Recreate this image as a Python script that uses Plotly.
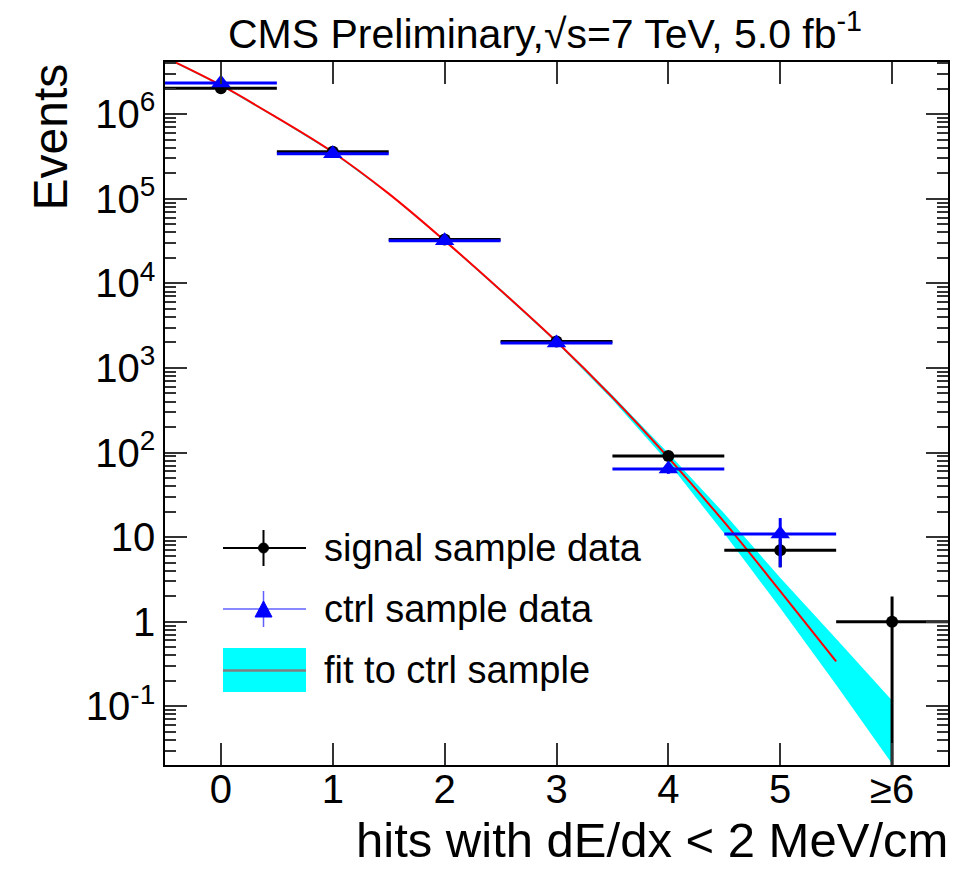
import plotly.graph_objects as go

# ---------------- data ----------------
bin_centers = [0, 1, 2, 3, 4, 5, 6]
tick_labels = ["0", "1", "2", "3", "4", "5", "≥6"]

signal_x = [0, 1, 2, 3, 4, 5, 6]
signal_y = [2.03e6, 3.6e5, 3.3e4, 2.05e3, 91, 7.0, 1.0]
signal_err_up = [1.4e3, 600, 180, 45, 9.5, 2.6, 0.98]
signal_err_dn = [1.4e3, 600, 180, 45, 9.5, 2.6, 0.9999]
signal_xerr = [0.5, 0.5, 0.5, 0.5, 0.5, 0.5, 0.5]

ctrl_x = [0, 1, 2, 3, 4, 5]
ctrl_y = [2.33e6, 3.4e5, 3.2e4, 1.97e3, 64, 10.9]
ctrl_err_up = [1.5e3, 580, 180, 44, 8, 5.9]
ctrl_err_dn = [1.5e3, 580, 180, 44, 8, 6.5]
ctrl_xerr = [0.5, 0.5, 0.5, 0.5, 0.5, 0.5]

fit_x = [-0.5, 0, 0.5, 1, 1.5, 2, 2.5, 3, 3.5, 4, 4.5, 5, 5.5]
fit_y = [4.7e6, 2.2e6, 9.1e5, 3.55e5, 1.15e5, 3.2e4, 8.3e3, 2.05e3, 4.5e2, 87, 15, 2.3, 0.34]

band_x = [-0.5, 0, 0.5, 1, 1.5, 2, 2.5, 3, 3.5, 4, 4.5, 5, 5.5, 6]
band_hi = [4.8e6, 2.25e6, 9.3e5, 3.62e5, 1.17e5, 3.27e4, 8.6e3, 2.12e3, 4.75e2, 98, 19, 3.3, 0.63, 0.117]
band_lo = [4.6e6, 2.15e6, 8.9e5, 3.48e5, 1.13e5, 3.13e4, 8.0e3, 1.98e3, 4.2e2, 76, 11.0, 1.45, 0.18, 0.021]

y_tickvals = [0.1, 1, 10, 100, 1e3, 1e4, 1e5, 1e6]
y_ticktext = ["10<sup>-1</sup>", "1", "10", "10<sup>2</sup>", "10<sup>3</sup>",
              "10<sup>4</sup>", "10<sup>5</sup>", "10<sup>6</sup>"]

FONT = "Liberation Sans, Arial, Helvetica, sans-serif"

fig = go.Figure()

# fit band
fig.add_trace(go.Scatter(x=band_x, y=band_lo, mode="lines", line=dict(width=0, color="#00ffff"),
                         showlegend=False, hoverinfo="skip"))
fig.add_trace(go.Scatter(x=band_x, y=band_hi, mode="lines", line=dict(width=0, color="#00ffff"),
                         fill="tonexty", fillcolor="#00ffff", showlegend=False, hoverinfo="skip"))
# fit curve
fig.add_trace(go.Scatter(x=fit_x, y=fit_y, mode="lines", line=dict(color="#ff0000", width=2, shape="spline"),
                         showlegend=False))

# signal data
fig.add_trace(go.Scatter(
    x=signal_x, y=signal_y, mode="markers",
    marker=dict(symbol="circle", size=12, color="black"),
    error_x=dict(type="data", array=signal_xerr, color="black", thickness=3, width=0),
    error_y=dict(type="data", symmetric=False, array=signal_err_up, arrayminus=signal_err_dn,
                 color="black", thickness=3, width=0),
    showlegend=False))

# ctrl data
fig.add_trace(go.Scatter(
    x=ctrl_x, y=ctrl_y, mode="markers",
    marker=dict(symbol="triangle-up", size=17, color="#0000ff"),
    error_x=dict(type="data", array=ctrl_xerr, color="#0000ff", thickness=3, width=0),
    error_y=dict(type="data", symmetric=False, array=ctrl_err_up, arrayminus=ctrl_err_dn,
                 color="#0000ff", thickness=3, width=0),
    showlegend=False))

# ---------------- layout ----------------
L, R, T, B = 165, 15, 62, 104
W, H = 963, 869
pw, ph = W - L - R, H - T - B


def px(x):
    return (x - L) / pw


def py(y):
    return (H - B - y) / ph


minor_vals = [k * 10.0 ** d for d in range(-2, 7) for k in range(2, 10)]

fig.update_layout(
    width=W, height=H,
    margin=dict(l=L, r=R, t=T, b=B, pad=0),
    paper_bgcolor="white", plot_bgcolor="white",
    font=dict(family=FONT, color="black"),
    showlegend=False,
    xaxis=dict(range=[-0.5, 6.5], tickmode="array", tickvals=bin_centers, ticktext=tick_labels,
               ticks="inside", ticklen=22, tickwidth=1.5, tickcolor="#333",
               showline=True, linecolor="black", linewidth=1.5, mirror="allticks",
               showgrid=False, zeroline=False, tickfont=dict(size=40, family=FONT),
               ticklabelstandoff=-12),
    yaxis=dict(type="log", range=[-1.694, 6.617], tickmode="array", tickvals=y_tickvals, ticktext=y_ticktext,
               ticks="inside", ticklen=22, tickwidth=1.5, tickcolor="#333",
               minor=dict(tickmode="array", tickvals=minor_vals, ticks="inside", ticklen=11,
                          tickwidth=1.5, tickcolor="#333", showgrid=False),
               showline=True, linecolor="black", linewidth=1.5, mirror="allticks",
               showgrid=False, zeroline=False, tickfont=dict(size=40, family=FONT),
               ticklabelstandoff=0),
)

ann = []
ann.append(dict(text="CMS Preliminary,√s=7 TeV, 5.0 fb<sup>-1</sup>", xref="paper", yref="paper",
                x=px(545), y=1, xanchor="center", yanchor="bottom", yshift=3, showarrow=False,
                font=dict(size=41, family=FONT)))
ann.append(dict(text="hits with dE/dx &lt; 2 MeV/cm", xref="paper", yref="paper",
                x=1.002, y=py(869), xanchor="right", yanchor="bottom", showarrow=False,
                font=dict(size=49, family=FONT)))
ann.append(dict(text="Events", xref="paper", yref="paper", textangle=-90,
                x=px(50), y=1, xanchor="center", yanchor="top", showarrow=False,
                font=dict(size=48, family=FONT)))

legend_labels = ["signal sample data", "ctrl sample data", "fit to ctrl sample"]
legend_rows = [548, 609, 670]
for lab, row in zip(legend_labels, legend_rows):
    ann.append(dict(text=lab, xref="paper", yref="paper", x=px(322), y=py(row),
                    xanchor="left", yanchor="middle", showarrow=False,
                    font=dict(size=38, family=FONT)))
fig.update_layout(annotations=ann)

shapes = []
# signal legend glyph
shapes.append(dict(type="line", xref="paper", yref="paper", x0=px(223), x1=px(306), y0=py(548), y1=py(548),
                   line=dict(color="black", width=2)))
shapes.append(dict(type="line", xref="paper", yref="paper", x0=px(263.5), x1=px(263.5), y0=py(530), y1=py(566),
                   line=dict(color="black", width=2)))
shapes.append(dict(type="circle", xref="paper", yref="paper", x0=px(258.5), x1=px(268.5), y0=py(543), y1=py(553),
                   fillcolor="black", line=dict(color="black", width=1)))
# ctrl legend glyph
shapes.append(dict(type="line", xref="paper", yref="paper", x0=px(223), x1=px(306), y0=py(609), y1=py(609),
                   line=dict(color="#6060ff", width=1.5)))
shapes.append(dict(type="line", xref="paper", yref="paper", x0=px(263.5), x1=px(263.5), y0=py(591), y1=py(627),
                   line=dict(color="#6060ff", width=1.5)))
tri = "M {a},{b} L {c},{d} L {e},{f} Z".format(a=px(255), b=py(617), c=px(272), d=py(617), e=px(263.5), f=py(601))
shapes.append(dict(type="path", xref="paper", yref="paper", path=tri, fillcolor="#0000ff",
                   line=dict(color="#0000ff", width=1)))
# fit legend glyph
shapes.append(dict(type="rect", xref="paper", yref="paper", x0=px(223), x1=px(306), y0=py(692), y1=py(648),
                   fillcolor="#00ffff", line=dict(width=0)))
shapes.append(dict(type="line", xref="paper", yref="paper", x0=px(223), x1=px(306), y0=py(670.5), y1=py(670.5),
                   line=dict(color="#808080", width=2.5)))
fig.update_layout(shapes=shapes)

fig.write_html("out.html", config={"displayModeBar": False},
               post_script="document.body.style.margin='0';")
